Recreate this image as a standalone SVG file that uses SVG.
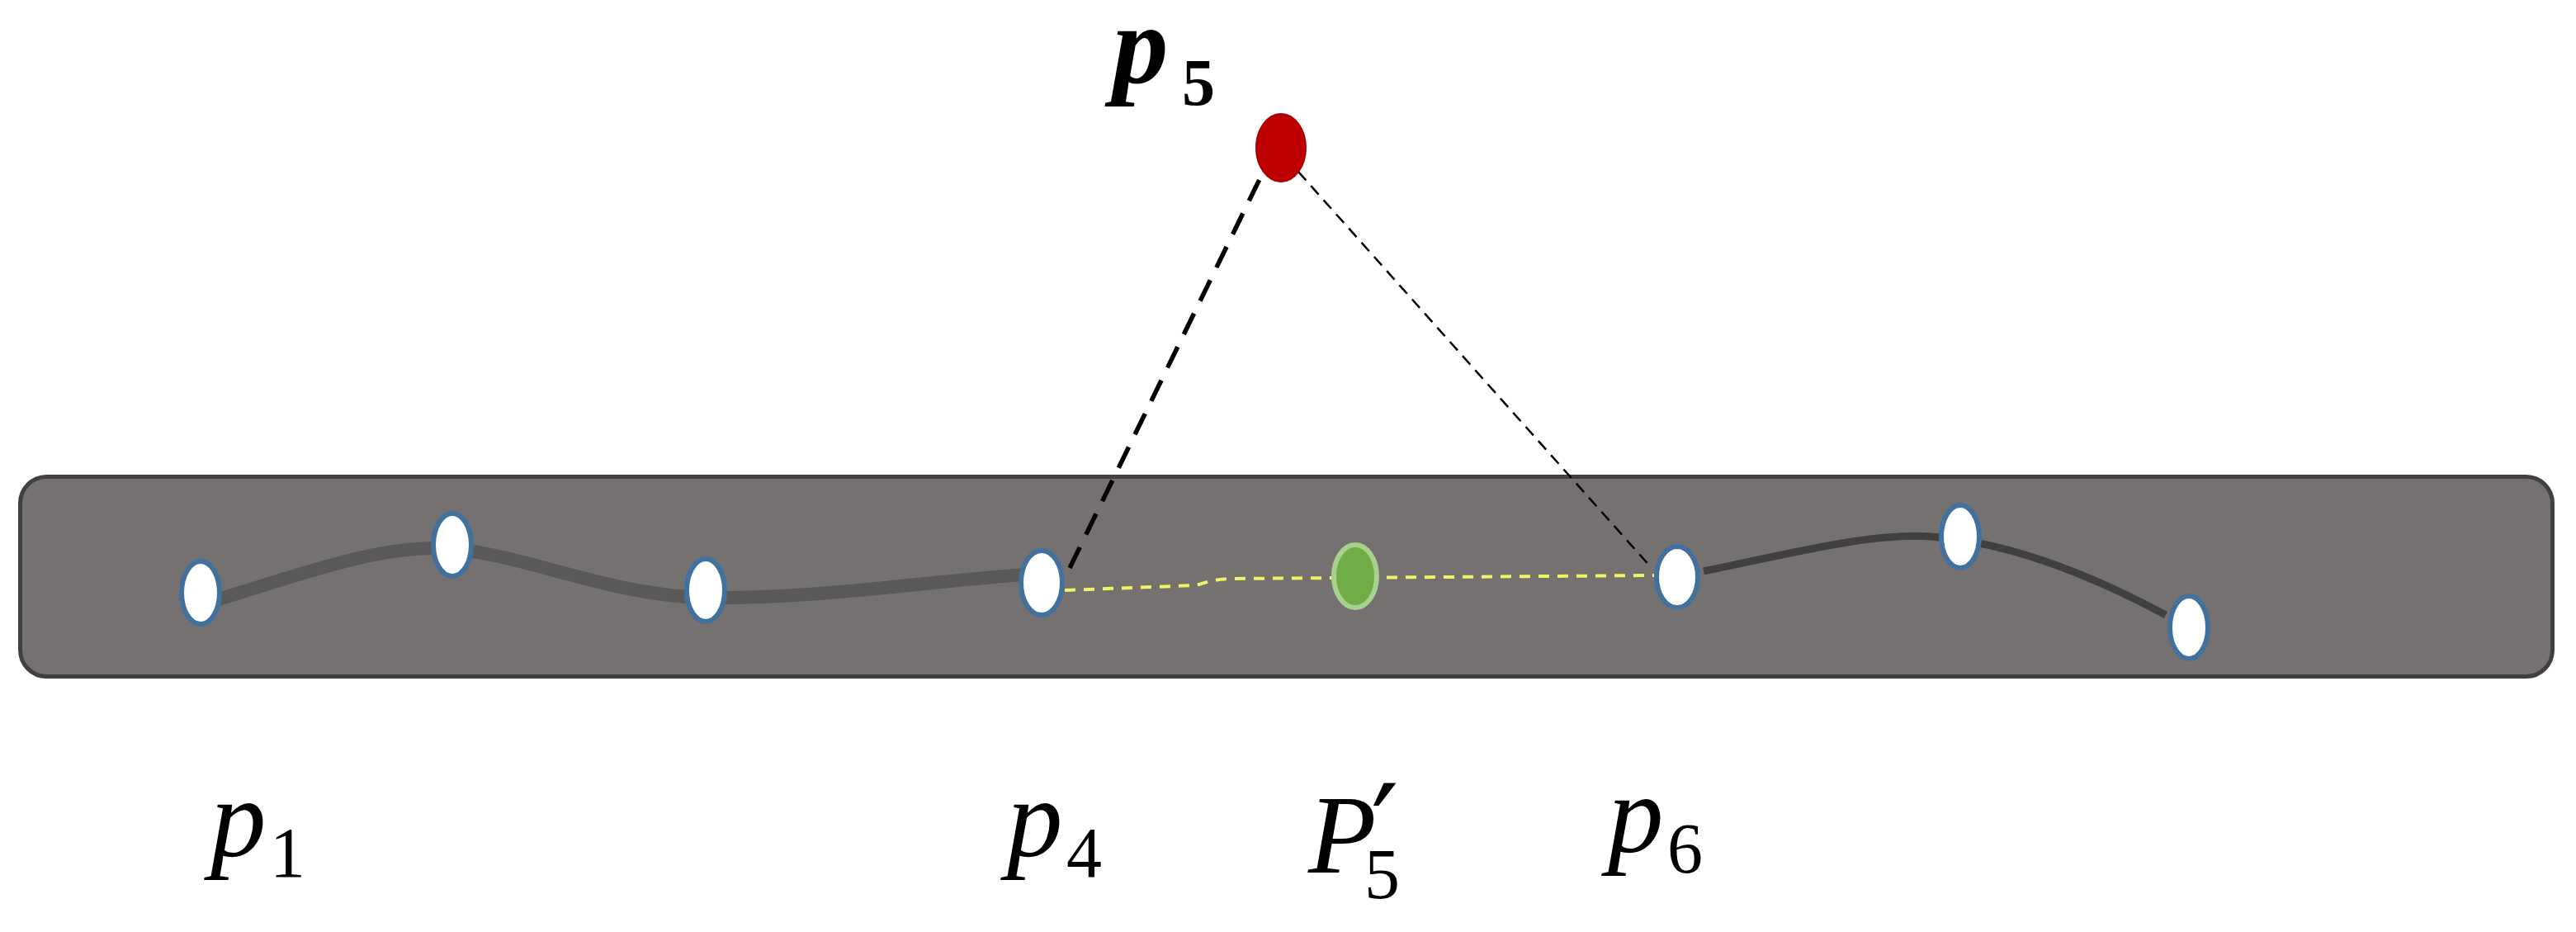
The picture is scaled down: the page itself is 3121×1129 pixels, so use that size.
<svg xmlns="http://www.w3.org/2000/svg" width="3121" height="1129" viewBox="0 0 3121 1129">
  <style>
    .pt { fill: #FFFFFF; stroke: #41719C; stroke-width: 6; }
    .lbl { font-family: "Liberation Serif", "DejaVu Serif", serif; fill: #000000; font-style: italic; font-size: 135px; }
    .sub { font-style: normal; font-size: 86px; }
  </style>
  <rect width="3121" height="1129" fill="#FFFFFF"/>
  <g id="band">
    <rect x="24.5" y="577.5" width="3068" height="242" rx="32" ry="32" fill="#767171" stroke="#404040" stroke-width="5"/>
  </g>
  <g id="connectors" fill="none">
    <path id="curve-left" d="M262,727 C380,690 470,658 548,665 C640,673 740,722 855,724 C1000,726 1150,700 1262,695" stroke="#595959" stroke-width="16" stroke-linecap="butt"/>
    <path id="curve-right" d="M2064,692 C2180,668 2270,645 2340,650 C2440,657 2540,700 2624,745" stroke="#404040" stroke-width="9"/>
    <path id="yellow-dash" d="M1290,715 L1450,709 Q1468,702 1490,701 L2004,697" stroke="#F2F266" stroke-width="4" stroke-dasharray="13 10"/>
    <line id="thick-dash" x1="1296" y1="688" x2="1531" y2="207" stroke="#000000" stroke-width="5.5" stroke-dasharray="28 17"/>
    <line id="thin-dash" x1="1573" y1="208" x2="2001" y2="688" stroke="#000000" stroke-width="2.5" stroke-dasharray="14 9"/>
  </g>
  <g id="p1-node"><ellipse class="pt" cx="243" cy="718" rx="23" ry="38"/></g>
  <g id="p2-node"><ellipse class="pt" cx="548" cy="660" rx="23" ry="38"/></g>
  <g id="p3-node"><ellipse class="pt" cx="855" cy="715" rx="23" ry="38"/></g>
  <g id="p4-node"><ellipse class="pt" cx="1262" cy="706" rx="25" ry="39"/></g>
  <g id="p5prime-node"><ellipse cx="1642" cy="698" rx="26" ry="38" fill="#70AD47" stroke="#A9D18E" stroke-width="6"/></g>
  <g id="p6-node"><ellipse class="pt" cx="2032" cy="699" rx="25" ry="37"/></g>
  <g id="p7-node"><ellipse class="pt" cx="2375" cy="650" rx="23" ry="38"/></g>
  <g id="p8-node"><ellipse class="pt" cx="2652" cy="760" rx="23" ry="38"/></g>
  <g id="p5-node"><ellipse cx="1552" cy="179" rx="30" ry="41" fill="#C00000" stroke="#A50000" stroke-width="2"/></g>
  <g id="labels">
    <text class="lbl" x="1348" y="100" font-size="128" font-weight="bold">p<tspan x="1432" y="127" font-style="normal" font-size="80">5</tspan></text>
    <text class="lbl" x="255" y="1037">p<tspan class="sub" x="327" y="1062">1</tspan></text>
    <text class="lbl" x="1220" y="1037">p<tspan class="sub" x="1292" y="1062">4</tspan></text>
    <text class="lbl" x="1585" y="1057" font-size="125">P<tspan class="sub" x="1653" y="1088">5</tspan><tspan x="1661" y="1058" font-family="DejaVu Serif, serif" font-style="normal" font-size="150">′</tspan></text>
    <text class="lbl" x="1948" y="1032">p<tspan class="sub" x="2020" y="1057">6</tspan></text>
  </g>
</svg>
